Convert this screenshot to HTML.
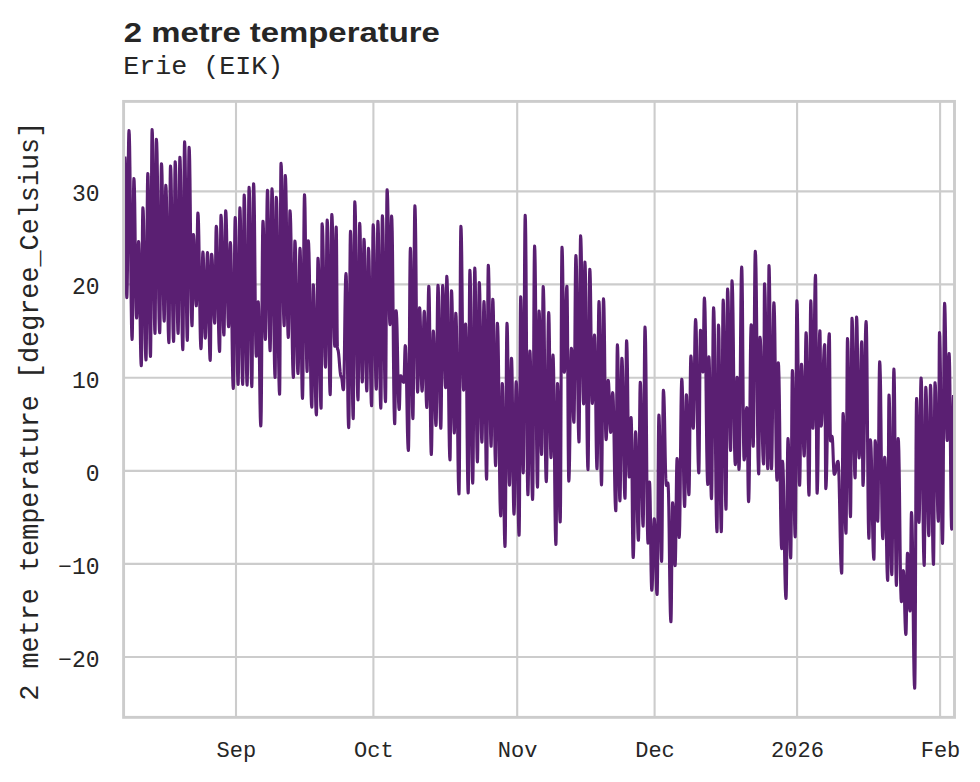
<!DOCTYPE html>
<html><head><meta charset="utf-8"><title>2 metre temperature</title>
<style>
html,body{margin:0;padding:0;background:#fff;}
body{width:980px;height:782px;overflow:hidden;}
svg{display:block;}
text{fill:#262626;}
.mono{font-family:"Liberation Mono",monospace;}
.sans{font-family:"Liberation Sans",sans-serif;}
</style></head><body>
<svg width="980" height="782" viewBox="0 0 980 782">
<rect x="0" y="0" width="980" height="782" fill="#ffffff"/>
<defs><clipPath id="c"><rect x="123.6" y="101.4" width="830.9" height="615.95"/></clipPath></defs>
<g stroke="#cccccc" stroke-width="2.1" fill="none">
<line x1="236.0" y1="101.4" x2="236.0" y2="717.35"/>
<line x1="373.4" y1="101.4" x2="373.4" y2="717.35"/>
<line x1="517.2" y1="101.4" x2="517.2" y2="717.35"/>
<line x1="654.6" y1="101.4" x2="654.6" y2="717.35"/>
<line x1="797.1" y1="101.4" x2="797.1" y2="717.35"/>
<line x1="940.1" y1="101.4" x2="940.1" y2="717.35"/>
<line x1="123.6" y1="191.4" x2="954.5" y2="191.4"/>
<line x1="123.6" y1="284.4" x2="954.5" y2="284.4"/>
<line x1="123.6" y1="377.8" x2="954.5" y2="377.8"/>
<line x1="123.6" y1="470.9" x2="954.5" y2="470.9"/>
<line x1="123.6" y1="563.9" x2="954.5" y2="563.9"/>
<line x1="123.6" y1="657.0" x2="954.5" y2="657.0"/>
</g>
<polyline clip-path="url(#c)" points="124.90,156.5 125.09,159.0 125.28,166.9 125.47,181.1 125.66,201.9 125.85,227.1 126.04,252.2 126.23,273.0 126.42,287.2 126.61,295.1 126.80,297.6 127.02,294.7 127.24,285.3 127.46,268.4 127.68,243.8 127.90,214.1 128.12,184.4 128.34,159.8 128.56,142.9 128.78,133.5 129.00,130.6 129.31,134.3 129.62,146.0 129.93,167.1 130.24,197.8 130.55,235.0 130.86,272.3 131.17,303.0 131.48,324.1 131.79,335.8 132.10,339.5 132.28,336.7 132.46,327.7 132.64,311.4 132.82,287.7 133.00,259.1 133.18,230.4 133.36,206.7 133.54,190.4 133.72,181.4 133.90,178.6 134.17,181.0 134.44,188.9 134.71,202.9 134.98,223.5 135.25,248.3 135.52,273.1 135.79,293.7 136.06,307.7 136.33,315.6 136.60,318.0 136.80,316.7 137.00,312.4 137.20,304.7 137.40,293.4 137.60,279.8 137.80,266.2 138.00,254.9 138.20,247.2 138.40,242.9 138.60,241.6 138.87,243.8 139.14,250.7 139.41,263.3 139.68,281.5 139.95,303.6 140.22,325.8 140.49,344.0 140.76,356.6 141.03,363.5 141.30,365.7 141.46,362.9 141.62,354.1 141.78,338.1 141.94,314.9 142.10,286.8 142.26,258.7 142.42,235.5 142.58,219.5 142.74,210.7 142.90,207.9 143.21,210.6 143.52,219.1 143.83,234.5 144.14,256.9 144.45,283.9 144.76,311.0 145.07,333.4 145.38,348.8 145.69,357.3 146.00,360.0 146.18,356.7 146.36,346.3 146.54,327.4 146.72,300.0 146.90,266.8 147.08,233.5 147.26,206.1 147.44,187.2 147.62,176.8 147.80,173.5 148.07,176.7 148.34,187.0 148.61,205.5 148.88,232.4 149.15,265.0 149.42,297.6 149.69,324.5 149.96,343.0 150.23,353.3 150.50,356.5 150.66,352.5 150.82,339.8 150.98,316.9 151.14,283.5 151.30,243.1 151.46,202.6 151.62,169.2 151.78,146.3 151.94,133.6 152.10,129.6 152.39,133.2 152.68,144.6 152.97,165.2 153.26,195.2 153.55,231.5 153.84,267.8 154.13,297.8 154.42,318.4 154.71,329.8 155.00,333.4 155.14,330.0 155.28,319.1 155.42,299.5 155.56,271.0 155.70,236.4 155.84,201.8 155.98,173.3 156.12,153.7 156.26,142.8 156.40,139.4 156.73,142.8 157.06,153.6 157.39,173.2 157.72,201.6 158.05,236.1 158.38,270.6 158.71,299.0 159.04,318.6 159.37,329.4 159.70,332.8 159.88,329.8 160.06,320.4 160.24,303.3 160.42,278.4 160.60,248.2 160.78,218.1 160.96,193.2 161.14,176.1 161.32,166.7 161.50,163.7 161.77,166.5 162.04,175.3 162.31,191.2 162.58,214.4 162.85,242.4 163.12,270.4 163.39,293.6 163.66,309.5 163.93,318.3 164.20,321.1 164.36,318.7 164.52,311.1 164.68,297.4 164.84,277.4 165.00,253.2 165.16,229.1 165.32,209.1 165.48,195.4 165.64,187.8 165.80,185.4 166.11,188.2 166.42,197.0 166.73,212.9 167.04,236.0 167.35,264.0 167.66,292.0 167.97,315.1 168.28,331.0 168.59,339.8 168.90,342.6 169.06,339.5 169.22,329.6 169.38,311.8 169.54,285.8 169.70,254.3 169.86,222.8 170.02,196.8 170.18,179.0 170.34,169.1 170.50,166.0 170.81,169.1 171.12,178.9 171.43,196.6 171.74,222.5 172.05,253.8 172.36,285.0 172.67,310.9 172.98,328.6 173.29,338.4 173.60,341.5 173.76,338.3 173.92,328.3 174.08,310.1 174.24,283.6 174.40,251.6 174.56,219.6 174.72,193.1 174.88,174.9 175.04,164.9 175.20,161.7 175.49,164.7 175.78,174.3 176.07,191.7 176.36,217.0 176.65,247.6 176.94,278.1 177.23,303.4 177.52,320.8 177.81,330.4 178.10,333.4 178.28,330.3 178.46,320.4 178.64,302.6 178.82,276.7 179.00,245.3 179.18,213.9 179.36,188.0 179.54,170.2 179.72,160.3 179.90,157.2 180.19,160.6 180.48,171.4 180.77,190.8 181.06,219.2 181.35,253.4 181.64,287.7 181.93,316.1 182.22,335.5 182.51,346.3 182.80,349.7 182.98,346.0 183.16,334.4 183.34,313.4 183.52,282.8 183.70,245.8 183.88,208.7 184.06,178.1 184.24,157.1 184.42,145.5 184.60,141.8 184.87,145.3 185.14,156.4 185.41,176.5 185.68,205.8 185.95,241.1 186.22,276.5 186.49,305.8 186.76,325.9 187.03,337.0 187.30,340.5 187.48,337.1 187.66,326.3 187.84,306.8 188.02,278.3 188.20,243.9 188.38,209.5 188.56,181.0 188.74,161.5 188.92,150.7 189.10,147.3 189.39,150.4 189.68,160.4 189.97,178.5 190.26,204.8 190.55,236.5 190.84,268.3 191.13,294.6 191.42,312.7 191.71,322.7 192.00,325.8 192.14,324.2 192.28,319.1 192.42,309.9 192.56,296.4 192.70,280.2 192.84,263.9 192.98,250.4 193.12,241.2 193.26,236.1 193.40,234.5 193.69,235.8 193.98,239.7 194.27,247.0 194.56,257.4 194.85,270.1 195.14,282.9 195.43,293.3 195.72,300.6 196.01,304.5 196.30,305.8 196.46,304.2 196.62,299.0 196.78,289.6 196.94,275.9 197.10,259.4 197.26,242.9 197.42,229.2 197.58,219.8 197.74,214.6 197.90,213.0 198.21,215.4 198.52,223.0 198.83,236.7 199.14,256.7 199.45,280.8 199.76,305.0 200.07,325.0 200.38,338.7 200.69,346.3 201.00,348.7 201.19,347.0 201.38,341.6 201.57,331.8 201.76,317.6 201.95,300.4 202.14,283.2 202.33,269.0 202.52,259.2 202.71,253.8 202.90,252.1 203.14,253.6 203.38,258.4 203.62,267.1 203.86,279.8 204.10,295.1 204.34,310.4 204.58,323.1 204.82,331.8 205.06,336.6 205.30,338.1 205.52,336.6 205.74,331.8 205.96,323.2 206.18,310.6 206.40,295.4 206.62,280.1 206.84,267.5 207.06,258.9 207.28,254.1 207.50,252.6 207.77,254.5 208.04,260.5 208.31,271.4 208.58,287.3 208.85,306.5 209.12,325.7 209.39,341.6 209.66,352.5 209.93,358.5 210.20,360.4 210.34,358.5 210.48,352.6 210.62,341.9 210.76,326.2 210.90,307.3 211.04,288.4 211.18,272.7 211.32,262.0 211.46,256.1 211.60,254.2 211.91,255.4 212.22,259.3 212.53,266.2 212.84,276.4 213.15,288.6 213.46,300.9 213.77,311.1 214.08,318.0 214.39,321.9 214.70,323.1 214.86,321.4 215.02,316.0 215.18,306.2 215.34,291.9 215.50,274.7 215.66,257.5 215.82,243.2 215.98,233.4 216.14,228.0 216.30,226.3 216.63,228.5 216.96,235.5 217.29,248.1 217.62,266.6 217.95,288.9 218.28,311.1 218.61,329.6 218.94,342.2 219.27,349.2 219.60,351.4 219.74,349.0 219.88,341.4 220.02,327.6 220.16,307.6 220.30,283.4 220.44,259.2 220.58,239.2 220.72,225.4 220.86,217.8 221.00,215.4 221.29,217.5 221.58,224.2 221.87,236.3 222.16,253.9 222.45,275.2 222.74,296.5 223.03,314.1 223.32,326.2 223.61,332.9 223.90,335.0 224.08,332.8 224.26,325.9 224.44,313.3 224.62,295.0 224.80,272.9 224.98,250.7 225.16,232.4 225.34,219.8 225.52,212.9 225.70,210.7 225.99,212.7 226.28,219.2 226.57,231.0 226.86,248.1 227.15,268.8 227.44,289.4 227.73,306.5 228.02,318.3 228.31,324.8 228.60,326.8 228.78,325.3 228.96,320.6 229.14,312.1 229.32,299.7 229.50,284.7 229.68,269.7 229.86,257.3 230.04,248.8 230.22,244.1 230.40,242.6 230.69,245.2 230.98,253.3 231.27,268.1 231.56,289.6 231.85,315.5 232.14,341.5 232.43,363.0 232.72,377.8 233.01,385.9 233.30,388.5 233.49,385.5 233.68,375.9 233.87,358.6 234.06,333.5 234.25,303.0 234.44,272.5 234.63,247.4 234.82,230.1 235.01,220.5 235.20,217.5 235.49,220.4 235.78,229.8 236.07,246.6 236.36,271.2 236.65,300.9 236.94,330.7 237.23,355.3 237.52,372.1 237.81,381.5 238.10,384.4 238.28,381.3 238.46,371.4 238.64,353.6 238.82,327.6 239.00,296.2 239.18,264.7 239.36,238.7 239.54,220.9 239.72,211.0 239.90,207.9 240.18,211.0 240.46,220.9 240.74,238.7 241.02,264.7 241.30,296.1 241.58,327.6 241.86,353.6 242.14,371.4 242.42,381.3 242.70,384.4 242.85,381.1 243.00,370.5 243.15,351.3 243.30,323.4 243.45,289.7 243.60,256.0 243.75,228.1 243.90,208.9 244.05,198.3 244.20,195.0 244.49,198.3 244.78,209.0 245.07,228.2 245.36,256.2 245.65,290.1 245.94,323.9 246.23,351.9 246.52,371.1 246.81,381.8 247.10,385.1 247.30,381.6 247.50,370.6 247.70,350.6 247.90,321.5 248.10,286.2 248.30,251.0 248.50,221.9 248.70,201.9 248.90,190.9 249.10,187.4 249.37,190.9 249.64,202.0 249.91,222.2 250.18,251.5 250.45,287.0 250.72,322.5 250.99,351.8 251.26,372.0 251.53,383.1 251.80,386.6 251.98,383.0 252.16,371.7 252.34,351.2 252.52,321.3 252.70,285.2 252.88,249.0 253.06,219.1 253.24,198.6 253.42,187.3 253.60,183.7 253.87,186.7 254.14,196.4 254.41,213.8 254.68,239.3 254.95,270.0 255.22,300.7 255.49,326.2 255.76,343.6 256.03,353.3 256.30,356.3 256.49,355.3 256.68,352.3 256.87,346.8 257.06,338.7 257.25,329.0 257.44,319.3 257.63,311.2 257.82,305.7 258.01,302.7 258.20,301.7 258.46,303.9 258.72,310.8 258.98,323.4 259.24,341.7 259.50,363.8 259.76,386.0 260.02,404.3 260.28,416.9 260.54,423.8 260.80,426.0 261.02,422.4 261.24,410.9 261.46,390.2 261.68,360.1 261.90,323.6 262.12,287.1 262.34,257.0 262.56,236.3 262.78,224.8 263.00,221.2 263.24,223.3 263.48,229.9 263.72,241.9 263.96,259.3 264.20,280.3 264.44,301.4 264.68,318.8 264.92,330.8 265.16,337.4 265.40,339.5 265.61,336.9 265.82,328.5 266.03,313.4 266.24,291.5 266.45,264.9 266.66,238.3 266.87,216.4 267.08,201.3 267.29,192.9 267.50,190.3 267.76,193.1 268.02,202.1 268.28,218.3 268.54,242.0 268.80,270.5 269.06,299.1 269.32,322.8 269.58,339.0 269.84,348.0 270.10,350.8 270.29,348.0 270.48,338.9 270.67,322.5 270.86,298.7 271.05,269.9 271.24,241.0 271.43,217.2 271.62,200.8 271.81,191.7 272.00,188.9 272.31,192.2 272.62,202.8 272.93,221.8 273.24,249.6 273.55,283.2 273.86,316.8 274.17,344.6 274.48,363.6 274.79,374.2 275.10,377.5 275.22,374.3 275.34,364.3 275.46,346.0 275.58,319.5 275.70,287.4 275.82,255.4 275.94,228.9 276.06,210.6 276.18,200.6 276.30,197.4 276.63,200.9 276.96,211.9 277.29,231.8 277.62,260.8 277.95,295.8 278.28,330.9 278.61,359.9 278.94,379.8 279.27,390.8 279.60,394.3 279.74,390.2 279.88,377.3 280.02,354.0 280.16,320.0 280.30,278.8 280.44,237.6 280.58,203.6 280.72,180.3 280.86,167.4 281.00,163.3 281.32,166.2 281.64,175.3 281.96,191.7 282.28,215.6 282.60,244.5 282.92,273.5 283.24,297.4 283.56,313.8 283.88,322.9 284.20,325.8 284.31,323.2 284.42,314.8 284.53,299.6 284.64,277.5 284.75,250.7 284.86,223.9 284.97,201.8 285.08,186.6 285.19,178.2 285.30,175.6 285.60,178.4 285.90,187.5 286.20,203.9 286.50,227.7 286.80,256.5 287.10,285.4 287.40,309.2 287.70,325.6 288.00,334.7 288.30,337.5 288.47,335.3 288.64,328.2 288.81,315.4 288.98,296.7 289.15,274.1 289.32,251.5 289.49,232.8 289.66,220.0 289.83,212.9 290.00,210.7 290.34,213.6 290.68,223.0 291.02,239.8 291.36,264.4 291.70,294.1 292.04,323.8 292.38,348.4 292.72,365.2 293.06,374.6 293.40,377.5 293.55,375.1 293.70,367.5 293.85,353.7 294.00,333.6 294.15,309.2 294.30,284.9 294.45,264.8 294.60,251.0 294.75,243.4 294.90,241.0 295.21,243.3 295.52,250.7 295.83,264.1 296.14,283.6 296.45,307.2 296.76,330.9 297.07,350.4 297.38,363.8 297.69,371.2 298.00,373.5 298.20,371.3 298.40,364.3 298.60,351.6 298.80,333.2 299.00,310.9 299.20,288.6 299.40,270.2 299.60,257.5 299.80,250.5 300.00,248.3 300.25,250.9 300.50,259.3 300.75,274.5 301.00,296.6 301.25,323.4 301.50,350.1 301.75,372.2 302.00,387.4 302.25,395.8 302.50,398.4 302.70,394.8 302.90,383.4 303.10,362.8 303.30,332.8 303.50,296.6 303.70,260.3 303.90,230.3 304.10,209.7 304.30,198.3 304.50,194.7 304.76,197.8 305.02,207.7 305.28,225.6 305.54,251.6 305.80,283.1 306.06,314.6 306.32,340.6 306.58,358.5 306.84,368.4 307.10,371.5 307.22,369.2 307.34,361.9 307.46,348.7 307.58,329.4 307.70,306.1 307.82,282.8 307.94,263.5 308.06,250.3 308.18,243.0 308.30,240.7 308.65,243.6 309.00,252.9 309.35,269.8 309.70,294.3 310.05,323.9 310.40,353.5 310.75,378.0 311.10,394.9 311.45,404.2 311.80,407.1 311.95,404.9 312.10,398.1 312.25,385.7 312.40,367.7 312.55,345.9 312.70,324.1 312.85,306.1 313.00,293.7 313.15,286.9 313.30,284.7 313.61,287.0 313.92,294.3 314.23,307.4 314.54,326.6 314.85,349.8 315.16,373.0 315.47,392.2 315.78,405.3 316.09,412.6 316.40,414.9 316.56,412.1 316.72,403.4 316.88,387.5 317.04,364.5 317.20,336.6 317.36,308.6 317.52,285.6 317.68,269.7 317.84,261.0 318.00,258.2 318.31,260.8 318.62,269.2 318.93,284.4 319.24,306.5 319.55,333.2 319.86,360.0 320.17,382.1 320.48,397.3 320.79,405.7 321.10,408.3 321.20,405.1 321.30,394.7 321.40,376.1 321.50,348.9 321.60,316.1 321.70,283.3 321.80,256.1 321.90,237.5 322.00,227.1 322.10,223.9 322.44,226.4 322.78,234.4 323.12,248.9 323.46,270.0 323.80,295.5 324.14,321.0 324.48,342.1 324.82,356.6 325.16,364.6 325.50,367.1 325.67,364.5 325.84,356.3 326.01,341.4 326.18,319.8 326.35,293.6 326.52,267.4 326.69,245.8 326.86,230.9 327.03,222.7 327.20,220.1 327.50,223.2 327.80,232.9 328.10,250.6 328.40,276.3 328.70,307.4 329.00,338.4 329.30,364.1 329.60,381.8 329.90,391.5 330.20,394.6 330.36,391.4 330.52,381.4 330.68,363.1 330.84,336.6 331.00,304.6 331.16,272.5 331.32,246.0 331.48,227.7 331.64,217.7 331.80,214.5 332.10,216.8 332.40,224.2 332.70,237.5 333.00,256.9 333.30,280.4 333.60,303.9 333.90,323.3 334.20,336.6 334.50,344.0 334.80,346.3 334.94,344.2 335.08,337.5 335.22,325.5 335.36,307.9 335.50,286.7 335.64,265.4 335.78,247.8 335.92,235.8 336.06,229.1 336.20,227.0 336.33,229.1 336.46,236.0 336.59,248.3 336.72,266.3 336.85,288.0 336.98,309.7 337.11,327.7 337.24,340.0 337.37,346.9 337.50,349.0 337.88,349.5 338.26,351.0 338.64,353.9 339.02,357.9 339.40,362.9 339.78,367.9 340.16,371.9 340.54,374.8 340.92,376.3 341.30,376.8 341.51,377.0 341.72,377.7 341.93,379.1 342.14,381.0 342.35,383.2 342.56,385.5 342.77,387.4 342.98,388.8 343.19,389.5 343.40,389.7 343.66,387.7 343.92,381.2 344.18,369.4 344.44,352.3 344.70,331.6 344.96,311.0 345.22,293.9 345.48,282.1 345.74,275.6 346.00,273.6 346.27,276.3 346.54,284.9 346.81,300.5 347.08,323.2 347.35,350.6 347.62,378.0 347.89,400.7 348.16,416.3 348.43,424.9 348.70,427.6 348.88,424.2 349.06,413.2 349.24,393.3 349.42,364.5 349.60,329.5 349.78,294.5 349.96,265.7 350.14,245.8 350.32,234.8 350.50,231.4 350.77,234.7 351.04,245.2 351.31,264.1 351.58,291.7 351.85,325.0 352.12,358.4 352.39,386.0 352.66,404.9 352.93,415.4 353.20,418.7 353.36,414.9 353.52,402.7 353.68,380.8 353.84,348.9 354.00,310.2 354.16,271.6 354.32,239.7 354.48,217.8 354.64,205.6 354.80,201.8 355.12,205.3 355.44,216.4 355.76,236.4 356.08,265.6 356.40,300.8 356.72,336.1 357.04,365.3 357.36,385.3 357.68,396.4 358.00,399.9 358.17,396.8 358.34,386.9 358.51,369.1 358.68,343.1 358.85,311.6 359.02,280.1 359.19,254.1 359.36,236.3 359.53,226.4 359.70,223.3 359.96,226.1 360.22,235.0 360.48,251.0 360.74,274.4 361.00,302.6 361.26,330.9 361.52,354.3 361.78,370.3 362.04,379.2 362.30,382.0 362.47,379.5 362.64,371.5 362.81,357.1 362.98,336.0 363.15,310.6 363.32,285.2 363.49,264.1 363.66,249.7 363.83,241.7 364.00,239.2 364.28,241.9 364.56,250.4 364.84,265.7 365.12,288.1 365.40,315.1 365.68,342.1 365.96,364.5 366.24,379.8 366.52,388.3 366.80,391.0 366.97,388.5 367.14,380.5 367.31,366.1 367.48,345.1 367.65,319.7 367.82,294.3 367.99,273.3 368.16,258.9 368.33,250.9 368.50,248.4 368.81,251.2 369.12,260.0 369.43,275.9 369.74,299.1 370.05,327.1 370.36,355.1 370.67,378.3 370.98,394.2 371.29,403.0 371.60,405.8 371.76,402.6 371.92,392.5 372.08,374.2 372.24,347.6 372.40,315.4 372.56,283.1 372.72,256.5 372.88,238.2 373.04,228.1 373.20,224.9 373.51,227.8 373.82,237.0 374.13,253.6 374.44,277.7 374.75,307.0 375.06,336.3 375.37,360.4 375.68,377.0 375.99,386.2 376.30,389.1 376.46,386.2 376.62,376.8 376.78,359.8 376.94,335.1 377.10,305.2 377.26,275.4 377.42,250.7 377.58,233.7 377.74,224.3 377.90,221.4 378.19,224.7 378.48,235.1 378.77,254.0 379.06,281.5 379.35,314.8 379.64,348.0 379.93,375.5 380.22,394.4 380.51,404.8 380.80,408.1 380.96,404.7 381.12,394.0 381.28,374.5 381.44,346.2 381.60,311.9 381.76,277.6 381.92,249.3 382.08,229.8 382.24,219.1 382.40,215.7 382.71,219.0 383.02,229.4 383.33,248.2 383.64,275.6 383.95,308.7 384.26,341.8 384.57,369.2 384.88,388.0 385.19,398.4 385.50,401.7 385.66,398.0 385.82,386.1 385.98,364.7 386.14,333.5 386.30,295.7 386.46,257.9 386.62,226.7 386.78,205.3 386.94,193.4 387.10,189.7 387.39,192.1 387.68,199.6 387.97,213.3 388.26,233.1 388.55,257.1 388.84,281.2 389.13,301.0 389.42,314.7 389.71,322.2 390.00,324.6 390.16,322.7 390.32,316.6 390.48,305.7 390.64,289.7 390.80,270.4 390.96,251.0 391.12,235.0 391.28,224.1 391.44,218.0 391.60,216.1 391.91,219.7 392.22,231.4 392.53,252.4 392.84,283.0 393.15,319.9 393.46,356.9 393.77,387.5 394.08,408.5 394.39,420.2 394.70,423.8 394.84,421.8 394.98,415.5 395.12,404.1 395.26,387.4 395.40,367.3 395.54,347.2 395.68,330.5 395.82,319.1 395.96,312.8 396.10,310.8 396.41,312.5 396.72,318.1 397.03,328.0 397.34,342.6 397.65,360.1 397.96,377.7 398.27,392.3 398.58,402.2 398.89,407.8 399.20,409.5 399.33,408.9 399.46,407.0 399.59,403.6 399.72,398.6 399.85,392.6 399.98,386.6 400.11,381.6 400.24,378.2 400.37,376.3 400.50,375.7 400.83,375.8 401.16,376.2 401.49,376.9 401.82,377.8 402.15,379.0 402.48,380.2 402.81,381.1 403.14,381.8 403.47,382.2 403.80,382.3 403.95,381.7 404.10,379.6 404.25,375.9 404.40,370.5 404.55,364.0 404.70,357.5 404.85,352.1 405.00,348.4 405.15,346.3 405.30,345.7 405.61,347.5 405.92,353.4 406.23,364.0 406.54,379.4 406.85,398.1 407.16,416.7 407.47,432.1 407.78,442.7 408.09,448.6 408.40,450.4 408.60,446.9 408.80,435.5 409.00,415.1 409.20,385.4 409.40,349.4 409.60,313.4 409.80,283.7 410.00,263.3 410.20,251.9 410.40,248.4 410.65,251.4 410.90,260.9 411.15,278.1 411.40,303.2 411.65,333.5 411.90,363.9 412.15,389.0 412.40,406.2 412.65,415.7 412.90,418.7 413.10,415.0 413.30,403.0 413.50,381.5 413.70,350.2 413.90,312.3 414.10,274.4 414.30,243.1 414.50,221.6 414.70,209.6 414.90,205.9 415.17,209.2 415.44,219.6 415.71,238.4 415.98,265.8 416.25,299.0 416.52,332.2 416.79,359.6 417.06,378.4 417.33,388.8 417.60,392.1 417.80,390.6 418.00,385.9 418.20,377.4 418.40,364.9 418.60,349.9 418.80,334.9 419.00,322.4 419.20,313.9 419.40,309.2 419.60,307.7 419.85,309.2 420.10,313.8 420.35,322.3 420.60,334.5 420.85,349.4 421.10,364.3 421.35,376.5 421.60,385.0 421.85,389.6 422.10,391.1 422.32,389.7 422.54,385.2 422.76,377.2 422.98,365.4 423.20,351.2 423.42,337.1 423.64,325.3 423.86,317.3 424.08,312.8 424.30,311.4 424.55,313.1 424.80,318.5 425.05,328.2 425.30,342.3 425.55,359.4 425.80,376.6 426.05,390.7 426.30,400.4 426.55,405.8 426.80,407.5 427.00,405.4 427.20,398.6 427.40,386.3 427.60,368.5 427.80,346.9 428.00,325.2 428.20,307.4 428.40,295.1 428.60,288.3 428.80,286.2 429.05,289.2 429.30,298.6 429.55,315.6 429.80,340.4 430.05,370.3 430.30,400.3 430.55,425.1 430.80,442.1 431.05,451.5 431.30,454.5 431.50,452.3 431.70,445.4 431.90,432.9 432.10,414.8 432.30,392.8 432.50,370.8 432.70,352.7 432.90,340.2 433.10,333.3 433.30,331.1 433.57,332.8 433.84,338.0 434.11,347.6 434.38,361.5 434.65,378.3 434.92,395.1 435.19,409.0 435.46,418.6 435.73,423.8 436.00,425.5 436.20,423.0 436.40,415.2 436.60,401.0 436.80,380.3 437.00,355.4 437.20,330.4 437.40,309.7 437.60,295.5 437.80,287.7 438.00,285.2 438.28,287.7 438.56,295.7 438.84,310.2 439.12,331.3 439.40,356.8 439.68,382.2 439.96,403.3 440.24,417.8 440.52,425.8 440.80,428.3 440.99,425.8 441.18,417.8 441.37,403.4 441.56,382.4 441.75,356.9 441.94,331.5 442.13,310.5 442.32,296.1 442.51,288.1 442.70,285.6 442.99,287.4 443.28,293.1 443.57,303.4 443.86,318.4 444.15,336.6 444.44,354.8 444.73,369.8 445.02,380.1 445.31,385.8 445.60,387.6 445.72,385.6 445.84,379.4 445.96,368.2 446.08,351.8 446.20,332.0 446.32,312.2 446.44,295.8 446.56,284.6 446.68,278.4 446.80,276.4 447.12,279.6 447.44,289.9 447.76,308.4 448.08,335.5 448.40,368.1 448.72,400.8 449.04,427.9 449.36,446.4 449.68,456.7 450.00,459.9 450.15,456.9 450.30,447.5 450.45,430.4 450.60,405.4 450.75,375.3 450.90,345.2 451.05,320.2 451.20,303.1 451.35,293.7 451.50,290.7 451.78,293.2 452.06,301.2 452.34,315.6 452.62,336.5 452.90,361.8 453.18,387.2 453.46,408.1 453.74,422.5 454.02,430.5 454.30,433.0 454.45,430.9 454.60,424.2 454.75,412.1 454.90,394.4 455.05,373.1 455.20,351.8 455.35,334.1 455.50,322.0 455.65,315.3 455.80,313.2 456.12,316.4 456.44,326.5 456.76,344.8 457.08,371.4 457.40,403.6 457.72,435.8 458.04,462.4 458.36,480.7 458.68,490.8 459.00,494.0 459.19,489.3 459.38,474.3 459.57,447.2 459.76,407.8 459.95,360.1 460.14,312.5 460.33,273.1 460.52,246.0 460.71,231.0 460.90,226.3 461.17,229.2 461.44,238.3 461.71,254.9 461.98,279.0 462.25,308.2 462.52,337.4 462.79,361.5 463.06,378.1 463.33,387.2 463.60,390.1 463.80,388.9 464.00,385.2 464.20,378.6 464.40,368.9 464.60,357.1 464.80,345.3 465.00,335.6 465.20,329.0 465.40,325.3 465.60,324.1 465.86,327.1 466.12,336.5 466.38,353.6 466.64,378.5 466.90,408.5 467.16,438.6 467.42,463.5 467.68,480.6 467.94,490.0 468.20,493.0 468.37,489.1 468.54,476.6 468.71,454.1 468.88,421.3 469.05,381.7 469.22,342.0 469.39,309.2 469.56,286.7 469.73,274.2 469.90,270.3 470.18,274.0 470.46,286.0 470.74,307.5 471.02,338.8 471.30,376.7 471.58,414.6 471.86,445.9 472.14,467.4 472.42,479.4 472.70,483.1 472.91,479.3 473.12,467.3 473.33,445.5 473.54,413.9 473.75,375.6 473.96,337.2 474.17,305.6 474.38,283.8 474.59,271.8 474.80,268.0 475.06,271.4 475.32,282.3 475.58,301.9 475.84,330.4 476.10,364.9 476.36,399.5 476.62,428.0 476.88,447.6 477.14,458.5 477.40,461.9 477.59,458.7 477.78,448.7 477.97,430.6 478.16,404.2 478.35,372.2 478.54,340.3 478.73,313.9 478.92,295.8 479.11,285.8 479.30,282.6 479.56,285.4 479.82,294.3 480.08,310.5 480.34,334.0 480.60,362.4 480.86,390.8 481.12,414.3 481.38,430.5 481.64,439.4 481.90,442.2 482.11,439.7 482.32,431.9 482.53,417.6 482.74,396.9 482.95,371.9 483.16,346.9 483.37,326.2 483.58,311.9 483.79,304.1 484.00,301.6 484.26,304.7 484.52,314.7 484.78,332.6 485.04,358.7 485.30,390.3 485.56,422.0 485.82,448.1 486.08,466.0 486.34,476.0 486.60,479.1 486.77,475.3 486.94,463.4 487.11,441.7 487.28,410.3 487.45,372.2 487.62,334.0 487.79,302.6 487.96,280.9 488.13,269.0 488.30,265.2 488.58,268.4 488.86,278.5 489.14,296.8 489.42,323.5 489.70,355.8 489.98,388.0 490.26,414.7 490.54,433.0 490.82,443.1 491.10,446.3 491.27,443.7 491.44,435.5 491.61,420.6 491.78,399.0 491.95,372.8 492.12,346.5 492.29,324.9 492.46,310.0 492.63,301.8 492.80,299.2 493.08,302.1 493.36,311.4 493.64,328.3 493.92,352.8 494.20,382.4 494.48,412.0 494.76,436.5 495.04,453.4 495.32,462.7 495.60,465.6 495.78,463.1 495.96,455.1 496.14,440.7 496.32,419.8 496.50,394.4 496.68,369.0 496.86,348.1 497.04,333.7 497.22,325.7 497.40,323.2 497.73,326.6 498.06,337.4 498.39,356.9 498.72,385.2 499.05,419.5 499.38,453.9 499.71,482.2 500.04,501.7 500.37,512.5 500.70,515.9 500.86,513.6 501.02,506.2 501.18,492.8 501.34,473.3 501.50,449.7 501.66,426.1 501.82,406.6 501.98,393.2 502.14,385.8 502.30,383.5 502.57,386.4 502.84,395.5 503.11,412.0 503.38,436.0 503.65,465.0 503.92,494.0 504.19,518.0 504.46,534.5 504.73,543.6 505.00,546.5 505.20,542.6 505.40,530.1 505.60,507.5 505.80,474.7 506.00,435.0 506.20,395.2 506.40,362.4 506.60,339.8 506.80,327.3 507.00,323.4 507.25,326.2 507.50,335.3 507.75,351.7 508.00,375.5 508.25,404.3 508.50,433.1 508.75,456.9 509.00,473.3 509.25,482.4 509.50,485.2 509.70,483.0 509.90,475.9 510.10,463.0 510.30,444.3 510.50,421.7 510.70,399.1 510.90,380.4 511.10,367.5 511.30,360.4 511.50,358.2 511.75,360.9 512.00,369.7 512.25,385.4 512.50,408.4 512.75,436.2 513.00,464.0 513.25,487.0 513.50,502.7 513.75,511.5 514.00,514.2 514.22,511.9 514.44,504.5 514.66,491.1 514.88,471.6 515.10,448.0 515.32,424.4 515.54,404.9 515.76,391.5 515.98,384.1 516.20,381.8 516.49,384.5 516.78,393.1 517.07,408.6 517.36,431.2 517.65,458.5 517.94,485.9 518.23,508.5 518.52,524.0 518.81,532.6 519.10,535.3 519.26,531.1 519.42,517.8 519.58,493.6 519.74,458.5 519.90,416.1 520.06,373.6 520.22,338.5 520.38,314.3 520.54,301.0 520.70,296.8 520.95,299.9 521.20,309.8 521.45,327.6 521.70,353.5 521.95,384.9 522.20,416.2 522.45,442.1 522.70,459.9 522.95,469.8 523.20,472.9 523.40,468.4 523.60,454.0 523.80,427.9 524.00,390.0 524.20,344.2 524.40,298.3 524.60,260.4 524.80,234.3 525.00,219.9 525.20,215.4 525.47,220.3 525.74,235.9 526.01,264.2 526.28,305.3 526.55,355.1 526.82,404.9 527.09,446.0 527.36,474.3 527.63,489.9 527.90,494.8 528.10,492.3 528.30,484.2 528.50,469.7 528.70,448.5 528.90,422.9 529.10,397.3 529.30,376.1 529.50,361.6 529.70,353.5 529.90,351.0 530.17,353.6 530.44,361.9 530.71,376.9 530.98,398.8 531.25,425.2 531.52,451.7 531.79,473.6 532.06,488.6 532.33,496.9 532.60,499.5 532.80,495.0 533.00,480.9 533.20,455.2 533.40,417.9 533.60,372.8 533.80,327.7 534.00,290.4 534.20,264.7 534.40,250.6 534.60,246.1 534.89,250.3 535.18,263.8 535.47,288.2 535.76,323.7 536.05,366.6 536.34,409.6 536.63,445.1 536.92,469.5 537.21,483.0 537.50,487.2 537.66,484.1 537.82,474.2 537.98,456.4 538.14,430.5 538.30,399.1 538.46,367.8 538.62,341.9 538.78,324.1 538.94,314.2 539.10,311.1 539.35,313.6 539.60,321.6 539.85,336.1 540.10,357.3 540.35,382.8 540.60,408.3 540.85,429.5 541.10,444.0 541.35,452.0 541.60,454.5 541.76,451.5 541.92,442.2 542.08,425.2 542.24,400.5 542.40,370.6 542.56,340.6 542.72,315.9 542.88,298.9 543.04,289.6 543.20,286.6 543.51,290.0 543.82,300.9 544.13,320.7 544.44,349.4 544.75,384.1 545.06,418.9 545.37,447.6 545.68,467.4 545.99,478.3 546.30,481.7 546.54,478.7 546.78,469.3 547.02,452.2 547.26,427.3 547.50,397.1 547.74,367.0 547.98,342.1 548.22,325.0 548.46,315.6 548.70,312.6 548.93,315.1 549.16,323.3 549.39,337.9 549.62,359.3 549.85,385.1 550.08,410.9 550.31,432.3 550.54,446.9 550.77,455.1 551.00,457.6 551.20,455.8 551.40,450.1 551.60,439.7 551.80,424.6 552.00,406.4 552.20,388.1 552.40,373.0 552.60,362.6 552.80,356.9 553.00,355.1 553.29,358.4 553.58,369.0 553.87,388.2 554.16,416.1 554.45,449.8 554.74,483.5 555.03,511.4 555.32,530.6 555.61,541.2 555.90,544.5 556.06,541.7 556.22,532.7 556.38,516.4 556.54,492.7 556.70,464.0 556.86,435.3 557.02,411.6 557.18,395.3 557.34,386.3 557.50,383.5 557.77,385.9 558.04,393.7 558.31,407.7 558.58,428.1 558.85,452.8 559.12,477.4 559.39,497.8 559.66,511.8 559.93,519.6 560.20,522.0 560.38,517.2 560.56,501.8 560.74,474.0 560.92,433.6 561.10,384.6 561.28,335.7 561.46,295.3 561.64,267.5 561.82,252.1 562.00,247.3 562.23,249.5 562.46,256.5 562.69,269.1 562.92,287.5 563.15,309.8 563.38,332.1 563.61,350.5 563.84,363.1 564.07,370.1 564.30,372.3 564.56,370.8 564.82,366.0 565.08,357.3 565.34,344.6 565.60,329.2 565.86,313.9 566.12,301.2 566.38,292.5 566.64,287.7 566.90,286.2 567.09,289.6 567.28,300.5 567.47,320.2 567.66,348.9 567.85,383.6 568.04,418.4 568.23,447.1 568.42,466.8 568.61,477.7 568.80,481.1 569.06,478.8 569.32,471.3 569.58,457.9 569.84,438.4 570.10,414.7 570.36,391.0 570.62,371.5 570.88,358.1 571.14,350.6 571.40,348.3 571.65,349.6 571.90,353.7 572.15,361.2 572.40,372.1 572.65,385.3 572.90,398.5 573.15,409.4 573.40,416.9 573.65,421.0 573.90,422.3 574.10,419.4 574.30,410.0 574.50,393.2 574.70,368.6 574.90,338.9 575.10,309.2 575.30,284.6 575.50,267.8 575.70,258.4 575.90,255.5 576.21,258.8 576.52,269.2 576.83,288.1 577.14,315.5 577.45,348.8 577.76,382.0 578.07,409.4 578.38,428.3 578.69,438.7 579.00,442.0 579.16,438.4 579.32,426.8 579.48,406.0 579.64,375.7 579.80,339.0 579.96,302.2 580.12,271.9 580.28,251.1 580.44,239.5 580.60,235.9 580.90,238.9 581.20,248.3 581.50,265.2 581.80,290.0 582.10,319.9 582.40,349.8 582.70,374.6 583.00,391.5 583.30,400.9 583.60,403.9 583.73,401.4 583.86,393.5 583.99,379.1 584.12,358.2 584.25,333.0 584.38,307.7 584.51,286.8 584.64,272.4 584.77,264.5 584.90,262.0 585.21,265.6 585.52,277.3 585.83,298.3 586.14,328.8 586.45,365.8 586.76,402.8 587.07,433.3 587.38,454.3 587.69,466.0 588.00,469.6 588.18,466.1 588.36,454.9 588.54,434.6 588.72,405.1 588.90,369.4 589.08,333.7 589.26,304.2 589.44,283.9 589.62,272.7 589.80,269.2 590.05,271.6 590.30,279.1 590.55,292.6 590.80,312.4 591.05,336.3 591.30,360.2 591.55,380.0 591.80,393.5 592.05,401.0 592.30,403.4 592.52,402.2 592.74,398.4 592.96,391.5 593.18,381.4 593.40,369.2 593.62,357.1 593.84,347.0 594.06,340.1 594.28,336.3 594.50,335.1 594.75,337.4 595.00,344.9 595.25,358.4 595.50,378.1 595.75,401.9 596.00,425.8 596.25,445.5 596.50,459.0 596.75,466.5 597.00,468.8 597.20,465.9 597.40,456.5 597.60,439.6 597.80,415.0 598.00,385.2 598.20,355.3 598.40,330.7 598.60,313.8 598.80,304.4 599.00,301.5 599.25,304.7 599.50,315.0 599.75,333.5 600.00,360.5 600.25,393.2 600.50,425.9 600.75,452.9 601.00,471.4 601.25,481.7 601.50,484.9 601.70,481.6 601.90,471.2 602.10,452.4 602.30,425.0 602.50,391.9 602.70,358.8 602.90,331.4 603.10,312.6 603.30,302.2 603.50,298.9 603.76,301.4 604.02,309.3 604.28,323.5 604.54,344.2 604.80,369.3 605.06,394.4 605.32,415.1 605.58,429.3 605.84,437.2 606.10,439.7 606.31,438.7 606.52,435.3 606.73,429.3 606.94,420.6 607.15,410.1 607.36,399.5 607.57,390.8 607.78,384.8 607.99,381.4 608.20,380.4 608.45,381.3 608.70,384.2 608.95,389.5 609.20,397.1 609.45,406.3 609.70,415.6 609.95,423.2 610.20,428.5 610.45,431.4 610.70,432.3 610.90,431.6 611.10,429.4 611.30,425.4 611.50,419.6 611.70,412.5 611.90,405.4 612.10,399.6 612.30,395.6 612.50,393.4 612.70,392.7 613.01,394.8 613.32,401.4 613.63,413.3 613.94,430.7 614.25,451.8 614.56,472.8 614.87,490.2 615.18,502.1 615.49,508.7 615.80,510.8 615.96,507.9 616.12,498.6 616.28,481.8 616.44,457.4 616.60,427.9 616.76,398.3 616.92,373.9 617.08,357.1 617.24,347.8 617.40,344.9 617.65,347.6 617.90,356.4 618.15,372.1 618.40,395.1 618.65,422.9 618.90,450.7 619.15,473.7 619.40,489.4 619.65,498.2 619.90,500.9 620.10,498.4 620.30,490.4 620.50,476.0 620.70,455.0 620.90,429.6 621.10,404.1 621.30,383.1 621.50,368.7 621.70,360.7 621.90,358.2 622.21,360.7 622.52,368.5 622.83,382.7 623.14,403.3 623.45,428.2 623.76,453.2 624.07,473.8 624.38,488.0 624.69,495.8 625.00,498.3 625.16,495.5 625.32,486.7 625.48,470.8 625.64,447.6 625.80,419.5 625.96,391.4 626.12,368.2 626.28,352.3 626.44,343.5 626.60,340.7 626.86,343.1 627.12,350.7 627.38,364.5 627.64,384.6 627.90,408.8 628.16,433.1 628.42,453.2 628.68,467.0 628.94,474.6 629.20,477.0 629.39,476.0 629.58,472.6 629.77,466.6 629.96,457.9 630.15,447.3 630.34,436.7 630.53,428.0 630.72,422.0 630.91,418.6 631.10,417.6 631.31,420.1 631.52,427.9 631.73,442.0 631.94,462.6 632.15,487.5 632.36,512.5 632.57,533.1 632.78,547.2 632.99,555.0 633.20,557.5 633.44,555.3 633.68,548.3 633.92,535.6 634.16,517.1 634.40,494.7 634.64,472.3 634.88,453.8 635.12,441.1 635.36,434.1 635.60,431.9 635.88,433.8 636.16,439.9 636.44,450.8 636.72,466.8 637.00,486.1 637.28,505.4 637.56,521.4 637.84,532.3 638.12,538.4 638.40,540.3 638.59,537.5 638.78,528.7 638.97,512.7 639.16,489.4 639.35,461.2 639.54,433.1 639.73,409.8 639.92,393.8 640.11,385.0 640.30,382.2 640.58,384.7 640.86,392.8 641.14,407.3 641.42,428.5 641.70,454.2 641.98,479.9 642.26,501.1 642.54,515.6 642.82,523.7 643.10,526.2 643.29,522.7 643.48,511.6 643.67,491.4 643.86,462.1 644.05,426.6 644.24,391.2 644.43,361.9 644.62,341.7 644.81,330.6 645.00,327.1 645.30,330.9 645.60,343.0 645.90,364.8 646.20,396.6 646.50,435.1 646.80,473.6 647.10,505.4 647.40,527.2 647.70,539.3 648.00,543.1 648.15,542.0 648.30,538.6 648.45,532.4 648.60,523.4 648.75,512.5 648.90,501.7 649.05,492.7 649.20,486.5 649.35,483.1 649.50,482.0 649.73,483.9 649.96,490.0 650.19,500.9 650.42,516.9 650.65,536.1 650.88,555.4 651.11,571.4 651.34,582.3 651.57,588.4 651.80,590.3 652.04,589.0 652.28,585.0 652.52,577.8 652.76,567.3 653.00,554.5 653.24,541.7 653.48,531.2 653.72,524.0 653.96,520.0 654.20,518.7 654.49,520.0 654.78,524.3 655.07,531.9 655.36,543.1 655.65,556.6 655.94,570.1 656.23,581.3 656.52,588.9 656.81,593.2 657.10,594.5 657.28,591.3 657.46,581.3 657.64,563.2 657.82,536.7 658.00,504.8 658.18,472.8 658.36,446.3 658.54,428.2 658.72,418.2 658.90,415.0 659.17,417.6 659.44,425.8 659.71,440.6 659.98,462.1 660.25,488.2 660.52,514.3 660.79,535.8 661.06,550.6 661.33,558.8 661.60,561.4 661.78,558.4 661.96,548.8 662.14,531.5 662.32,506.4 662.50,475.9 662.68,445.4 662.86,420.3 663.04,403.0 663.22,393.4 663.40,390.4 663.70,392.1 664.00,397.4 664.30,407.0 664.60,421.0 664.90,437.9 665.20,454.8 665.50,468.8 665.80,478.4 666.10,483.7 666.40,485.4 666.55,485.4 666.70,485.2 666.85,485.0 667.00,484.7 667.15,484.2 667.30,483.8 667.45,483.5 667.60,483.3 667.75,483.1 667.90,483.1 668.20,485.5 668.50,493.3 668.80,507.3 669.10,527.7 669.40,552.4 669.70,577.2 670.00,597.6 670.30,611.6 670.60,619.4 670.90,621.8 671.07,619.7 671.24,613.0 671.41,601.0 671.58,583.5 671.75,562.2 671.92,541.0 672.09,523.5 672.26,511.5 672.43,504.8 672.60,502.7 672.85,503.8 673.10,507.3 673.35,513.7 673.60,522.9 673.85,534.1 674.10,545.4 674.35,554.6 674.60,561.0 674.85,564.5 675.10,565.6 675.30,563.7 675.50,557.7 675.70,546.9 675.90,531.1 676.10,512.0 676.30,493.0 676.50,477.2 676.70,466.4 676.90,460.4 677.10,458.5 677.31,459.9 677.52,464.3 677.73,472.3 677.94,483.9 678.15,497.9 678.36,512.0 678.57,523.6 678.78,531.6 678.99,536.0 679.20,537.4 679.46,534.6 679.72,525.8 679.98,509.8 680.24,486.5 680.50,458.3 680.76,430.1 681.02,406.8 681.28,390.8 681.54,382.0 681.80,379.2 682.08,381.4 682.36,388.6 682.64,401.4 682.92,420.2 683.20,442.8 683.48,465.5 683.76,484.3 684.04,497.1 684.32,504.3 684.60,506.5 684.78,504.5 684.96,498.3 685.14,487.0 685.32,470.5 685.50,450.6 685.68,430.7 685.86,414.2 686.04,402.9 686.22,396.7 686.40,394.7 686.65,396.5 686.90,402.1 687.15,412.2 687.40,426.9 687.65,444.7 687.90,462.5 688.15,477.2 688.40,487.3 688.65,492.9 688.90,494.7 689.10,492.3 689.30,484.5 689.50,470.5 689.70,450.1 689.90,425.4 690.10,400.7 690.30,380.3 690.50,366.3 690.70,358.5 690.90,356.1 691.14,357.4 691.38,361.4 691.62,368.7 691.86,379.3 692.10,392.2 692.34,405.1 692.58,415.7 692.82,423.0 693.06,427.0 693.30,428.3 693.53,426.4 693.76,420.3 693.99,409.3 694.22,393.3 694.45,373.9 694.68,354.6 694.91,338.6 695.14,327.6 695.37,321.5 695.60,319.6 695.92,322.3 696.24,330.9 696.56,346.4 696.88,368.9 697.20,396.2 697.52,423.6 697.84,446.1 698.16,461.6 698.48,470.2 698.80,472.9 698.97,470.4 699.14,462.4 699.31,448.0 699.48,427.0 699.65,401.6 699.82,376.1 699.99,355.1 700.16,340.7 700.33,332.7 700.50,330.2 700.74,330.9 700.98,333.3 701.22,337.5 701.46,343.7 701.70,351.1 701.94,358.5 702.18,364.7 702.42,368.9 702.66,371.3 702.90,372.0 703.05,370.7 703.20,366.6 703.35,359.1 703.50,348.2 703.65,335.1 703.80,321.9 703.95,311.0 704.10,303.5 704.25,299.4 704.40,298.1 704.74,301.4 705.08,311.8 705.42,330.7 705.76,358.1 706.10,391.3 706.44,424.5 706.78,451.9 707.12,470.8 707.46,481.2 707.80,484.5 707.91,482.3 708.02,475.1 708.13,462.2 708.24,443.4 708.35,420.7 708.46,397.9 708.57,379.1 708.68,366.2 708.79,359.0 708.90,356.8 709.16,359.3 709.42,367.2 709.68,381.6 709.94,402.4 710.20,427.7 710.46,453.0 710.72,473.8 710.98,488.2 711.24,496.1 711.50,498.6 711.71,495.2 711.92,484.6 712.13,465.3 712.34,437.2 712.55,403.2 712.76,369.1 712.97,341.0 713.18,321.7 713.39,311.1 713.60,307.7 713.94,311.6 714.28,324.2 714.62,346.8 714.96,379.8 715.30,419.7 715.64,459.7 715.98,492.7 716.32,515.3 716.66,527.9 717.00,531.8 717.15,528.2 717.30,516.6 717.45,495.7 717.60,465.3 717.75,428.4 717.90,391.6 718.05,361.2 718.20,340.3 718.35,328.7 718.50,325.1 718.78,328.7 719.06,340.3 719.34,361.2 719.62,391.6 719.90,428.4 720.18,465.3 720.46,495.7 720.74,516.6 721.02,528.2 721.30,531.8 721.49,527.7 721.68,514.8 721.87,491.3 722.06,457.2 722.25,415.9 722.44,374.6 722.63,340.5 722.82,317.0 723.01,304.1 723.20,300.0 723.48,303.7 723.76,315.4 724.04,336.6 724.32,367.4 724.60,404.6 724.88,441.9 725.16,472.7 725.44,493.9 725.72,505.6 726.00,509.3 726.16,505.4 726.32,493.1 726.48,470.8 726.64,438.4 726.80,399.2 726.96,360.0 727.12,327.6 727.28,305.3 727.44,293.0 727.60,289.1 727.90,291.9 728.20,301.0 728.50,317.3 728.80,341.0 729.10,369.8 729.40,398.6 729.70,422.3 730.00,438.6 730.30,447.7 730.60,450.5 730.74,447.5 730.88,438.0 731.02,420.9 731.16,395.9 731.30,365.7 731.44,335.5 731.58,310.5 731.72,293.4 731.86,283.9 732.00,280.9 732.33,284.1 732.66,294.4 732.99,313.0 733.32,340.0 733.65,372.8 733.98,405.5 734.31,432.5 734.64,451.1 734.97,461.4 735.30,464.6 735.48,463.1 735.66,458.2 735.84,449.4 736.02,436.5 736.20,421.0 736.38,405.4 736.56,392.5 736.74,383.7 736.92,378.8 737.10,377.3 737.29,378.9 737.48,384.1 737.67,393.4 737.86,407.0 738.05,423.4 738.24,439.8 738.43,453.4 738.62,462.7 738.81,467.9 739.00,469.5 739.27,465.9 739.54,454.6 739.81,434.1 740.08,404.3 740.35,368.2 740.62,332.2 740.89,302.4 741.16,281.9 741.43,270.6 741.70,267.0 741.94,270.4 742.18,281.2 742.42,300.7 742.66,329.1 742.90,363.5 743.14,397.9 743.38,426.3 743.62,445.8 743.86,456.6 744.10,460.0 744.37,459.1 744.64,456.2 744.91,450.9 745.18,443.2 745.45,433.9 745.72,424.5 745.99,416.8 746.26,411.5 746.53,408.6 746.80,407.7 746.98,409.4 747.16,414.6 747.34,424.1 747.52,438.0 747.70,454.7 747.88,471.4 748.06,485.3 748.24,494.8 748.42,500.0 748.60,501.7 748.86,498.6 749.12,488.7 749.38,470.8 749.64,444.7 749.90,413.2 750.16,381.7 750.42,355.6 750.68,337.7 750.94,327.8 751.20,324.7 751.40,326.8 751.60,333.6 751.80,345.9 752.00,363.8 752.20,385.5 752.40,407.2 752.60,425.1 752.80,437.4 753.00,444.2 753.20,446.3 753.41,442.9 753.62,432.0 753.83,412.3 754.04,383.6 754.25,348.9 754.46,314.1 754.67,285.4 754.88,265.7 755.09,254.8 755.30,251.4 755.64,255.3 755.98,267.8 756.32,290.3 756.66,323.0 757.00,362.6 757.34,402.3 757.68,435.0 758.02,457.5 758.36,470.0 758.70,473.9 758.83,471.5 758.96,463.9 759.09,450.1 759.22,430.0 759.35,405.7 759.48,381.3 759.61,361.2 759.74,347.4 759.87,339.8 760.00,337.4 760.36,339.6 760.72,346.7 761.08,359.5 761.44,378.1 761.80,400.7 762.16,423.3 762.52,441.9 762.88,454.7 763.24,461.8 763.60,464.0 763.69,460.8 763.78,450.7 763.87,432.5 763.96,406.0 764.05,373.9 764.14,341.7 764.23,315.2 764.32,297.0 764.41,286.9 764.50,283.7 764.83,287.0 765.16,297.3 765.49,316.0 765.82,343.3 766.15,376.2 766.48,409.2 766.81,436.5 767.14,455.2 767.47,465.5 767.80,468.8 767.92,465.2 768.04,453.8 768.16,433.3 768.28,403.4 768.40,367.2 768.52,330.9 768.64,301.0 768.76,280.5 768.88,269.1 769.00,265.5 769.25,269.1 769.50,280.5 769.75,301.0 770.00,330.9 770.25,367.1 770.50,403.4 770.75,433.3 771.00,453.8 771.25,465.2 771.50,468.8 771.74,465.9 771.98,456.6 772.22,439.8 772.46,415.3 772.70,385.8 772.94,356.2 773.18,331.7 773.42,314.9 773.66,305.6 773.90,302.7 774.21,305.8 774.52,315.7 774.83,333.7 775.14,359.8 775.45,391.4 775.76,423.0 776.07,449.1 776.38,467.1 776.69,477.0 777.00,480.1 777.13,478.0 777.26,471.5 777.39,459.6 777.52,442.3 777.65,421.4 777.78,400.5 777.91,383.2 778.04,371.3 778.17,364.8 778.30,362.7 778.64,366.0 778.98,376.4 779.32,395.2 779.66,422.6 780.00,455.7 780.34,488.8 780.68,516.2 781.02,535.0 781.36,545.4 781.70,548.7 781.78,547.2 781.86,542.3 781.94,533.5 782.02,520.6 782.10,505.0 782.18,489.5 782.26,476.6 782.34,467.8 782.42,462.9 782.50,461.4 782.85,463.8 783.20,471.5 783.55,485.3 783.90,505.5 784.25,529.9 784.60,554.4 784.95,574.6 785.30,588.4 785.65,596.1 786.00,598.5 786.20,595.7 786.40,586.7 786.60,570.6 786.80,547.0 787.00,518.5 787.20,490.1 787.40,466.5 787.60,450.4 787.80,441.4 788.00,438.6 788.27,440.7 788.54,447.4 788.81,459.5 789.08,477.0 789.35,498.3 789.62,519.6 789.89,537.1 790.16,549.2 790.43,555.9 790.70,558.0 790.87,554.7 791.04,544.2 791.21,525.3 791.38,497.7 791.55,464.2 791.72,430.8 791.89,403.2 792.06,384.3 792.23,373.8 792.40,370.5 792.68,373.4 792.96,382.7 793.24,399.6 793.52,424.1 793.80,453.7 794.08,483.3 794.36,507.8 794.64,524.7 794.92,534.0 795.20,536.9 795.37,532.8 795.54,519.5 795.71,495.7 795.88,460.9 796.05,418.9 796.22,376.9 796.39,342.1 796.56,318.3 796.73,305.0 796.90,300.9 797.17,304.1 797.44,314.5 797.71,333.1 797.98,360.3 798.25,393.1 798.52,425.9 798.79,453.1 799.06,471.7 799.33,482.1 799.60,485.3 799.79,483.2 799.98,476.4 800.17,464.2 800.36,446.3 800.55,424.8 800.74,403.2 800.93,385.3 801.12,373.1 801.31,366.3 801.50,364.2 801.77,365.8 802.04,370.9 802.31,380.2 802.58,393.7 802.85,410.1 803.12,426.4 803.39,439.9 803.66,449.2 803.93,454.3 804.20,455.9 804.39,453.7 804.58,446.8 804.77,434.4 804.96,416.2 805.15,394.3 805.34,372.4 805.53,354.2 805.72,341.8 805.91,334.9 806.10,332.7 806.39,335.6 806.68,344.7 806.97,361.1 807.26,385.0 807.55,413.9 807.84,442.9 808.13,466.8 808.42,483.2 808.71,492.3 809.00,495.2 809.18,491.8 809.36,480.9 809.54,461.3 809.72,432.7 809.90,398.1 810.08,363.4 810.26,334.8 810.44,315.2 810.62,304.3 810.80,300.9 811.01,303.1 811.22,310.3 811.43,323.1 811.64,341.9 811.85,364.6 812.06,387.3 812.27,406.1 812.48,418.9 812.69,426.1 812.90,428.3 813.16,425.6 813.42,417.0 813.68,401.6 813.94,379.1 814.20,351.8 814.46,324.5 814.72,302.0 814.98,286.6 815.24,278.0 815.50,275.3 815.66,279.1 815.82,291.3 815.98,313.4 816.14,345.5 816.30,384.3 816.46,423.1 816.62,455.2 816.78,477.3 816.94,489.5 817.10,493.3 817.38,490.4 817.66,481.3 817.94,464.9 818.22,441.0 818.50,412.0 818.78,383.0 819.06,359.1 819.34,342.7 819.62,333.6 819.90,330.7 820.02,332.4 820.14,337.7 820.26,347.4 820.38,361.4 820.50,378.4 820.62,395.5 820.74,409.5 820.86,419.2 820.98,424.5 821.10,426.2 821.46,424.8 821.82,420.2 822.18,412.0 822.54,400.0 822.90,385.4 823.26,370.9 823.62,358.9 823.98,350.7 824.34,346.1 824.70,344.7 824.81,347.2 824.92,355.3 825.03,369.8 825.14,391.0 825.25,416.6 825.36,442.3 825.47,463.5 825.58,478.0 825.69,486.1 825.80,488.6 826.15,485.9 826.50,477.2 826.85,461.5 827.20,438.7 827.55,411.2 827.90,383.6 828.25,360.8 828.60,345.1 828.95,336.4 829.30,333.7 829.42,335.6 829.54,341.6 829.66,352.4 829.78,368.2 829.90,387.3 830.02,406.5 830.14,422.3 830.26,433.1 830.38,439.1 830.50,441.0 830.65,440.9 830.80,440.7 830.95,440.2 831.10,439.5 831.25,438.7 831.40,437.9 831.55,437.2 831.70,436.7 831.85,436.5 832.00,436.4 832.23,437.1 832.46,439.2 832.69,443.0 832.92,448.6 833.15,455.3 833.38,462.1 833.61,467.7 833.84,471.5 834.07,473.6 834.30,474.3 834.67,474.1 835.04,473.4 835.41,472.0 835.78,470.1 836.15,467.9 836.52,465.6 836.89,463.7 837.26,462.3 837.63,461.6 838.00,461.4 838.37,463.4 838.74,469.6 839.11,480.9 839.48,497.4 839.85,517.2 840.22,537.1 840.59,553.6 840.96,564.9 841.33,571.1 841.70,573.1 841.84,570.3 841.98,561.4 842.12,545.2 842.26,521.7 842.40,493.3 842.54,464.9 842.68,441.4 842.82,425.2 842.96,416.3 843.10,413.5 843.39,415.6 843.68,422.3 843.97,434.4 844.26,452.0 844.55,473.3 844.84,494.7 845.13,512.3 845.42,524.4 845.71,531.1 846.00,533.2 846.15,529.8 846.30,518.9 846.45,499.2 846.60,470.6 846.75,435.9 846.90,401.2 847.05,372.6 847.20,352.9 847.35,342.0 847.50,338.6 847.80,341.7 848.10,351.7 848.40,369.7 848.70,396.0 849.00,427.7 849.30,459.4 849.60,485.7 849.90,503.7 850.20,513.7 850.50,516.8 850.65,513.3 850.80,502.2 850.95,482.2 851.10,452.9 851.25,417.6 851.40,382.3 851.55,353.0 851.70,333.0 851.85,321.9 852.00,318.4 852.31,321.2 852.62,330.1 852.93,346.3 853.24,369.7 853.55,398.1 853.86,426.6 854.17,450.0 854.48,466.2 854.79,475.1 855.10,477.9 855.25,475.1 855.40,466.1 855.55,449.8 855.70,426.1 855.85,397.5 856.00,368.9 856.15,345.2 856.30,328.9 856.45,319.9 856.60,317.1 856.85,319.6 857.10,327.5 857.35,341.7 857.60,362.4 857.85,387.5 858.10,412.6 858.35,433.3 858.60,447.5 858.85,455.4 859.10,457.9 859.36,455.9 859.62,449.4 859.88,437.6 860.14,420.6 860.40,399.9 860.66,379.2 860.92,362.2 861.18,350.4 861.44,343.9 861.70,341.9 861.83,344.4 861.96,352.5 862.09,367.0 862.22,388.1 862.35,413.7 862.48,439.3 862.61,460.4 862.74,474.9 862.87,483.0 863.00,485.5 863.31,482.6 863.62,473.4 863.93,456.9 864.24,432.7 864.55,403.6 864.86,374.4 865.17,350.2 865.48,333.7 865.79,324.5 866.10,321.6 866.38,325.4 866.66,337.5 866.94,359.4 867.22,391.3 867.50,429.9 867.78,468.6 868.06,500.5 868.34,522.4 868.62,534.5 868.90,538.3 869.05,536.6 869.20,531.1 869.35,521.1 869.50,506.6 869.65,489.1 869.80,471.6 869.95,457.1 870.10,447.1 870.25,441.6 870.40,439.9 870.75,442.0 871.10,448.7 871.45,460.8 871.80,478.3 872.15,499.6 872.50,520.9 872.85,538.4 873.20,550.5 873.55,557.2 873.90,559.3 874.03,557.2 874.16,550.6 874.29,538.6 874.42,521.2 874.55,500.1 874.68,479.0 874.81,461.6 874.94,449.6 875.07,443.0 875.20,440.9 875.45,442.3 875.70,446.8 875.95,454.9 876.20,466.8 876.45,481.1 876.70,495.4 876.95,507.3 877.20,515.4 877.45,519.9 877.70,521.3 877.90,518.5 878.10,509.6 878.30,493.4 878.50,469.9 878.70,441.5 878.90,413.1 879.10,389.6 879.30,373.4 879.50,364.5 879.70,361.7 880.01,364.8 880.32,374.7 880.63,392.6 880.94,418.7 881.25,450.2 881.56,481.7 881.87,507.8 882.18,525.7 882.49,535.6 882.80,538.7 882.99,537.3 883.18,532.7 883.37,524.5 883.56,512.5 883.75,498.0 883.94,483.5 884.13,471.5 884.32,463.3 884.51,458.7 884.70,457.3 885.00,459.5 885.30,466.4 885.60,478.8 885.90,496.9 886.20,518.9 886.50,540.8 886.80,558.9 887.10,571.3 887.40,578.2 887.70,580.4 887.83,577.1 887.96,566.8 888.09,548.0 888.22,520.7 888.35,487.7 888.48,454.7 888.61,427.4 888.74,408.6 888.87,398.3 889.00,395.0 889.28,398.2 889.56,408.2 889.84,426.4 890.12,452.8 890.40,484.8 890.68,516.9 890.96,543.3 891.24,561.5 891.52,571.5 891.80,574.7 892.01,571.1 892.22,559.6 892.43,538.8 892.64,508.5 892.85,471.9 893.06,435.2 893.27,404.9 893.48,384.1 893.69,372.6 893.90,369.0 894.15,372.8 894.40,384.9 894.65,406.8 894.90,438.7 895.15,477.2 895.40,515.8 895.65,547.7 895.90,569.6 896.15,581.7 896.40,585.5 896.58,582.9 896.76,574.7 896.94,559.8 897.12,538.2 897.30,512.0 897.48,485.9 897.66,464.3 897.84,449.4 898.02,441.2 898.20,438.6 898.52,441.5 898.84,450.6 899.16,467.1 899.48,491.1 899.80,520.1 900.12,549.2 900.44,573.2 900.76,589.7 901.08,598.8 901.40,601.7 901.59,601.2 901.78,599.4 901.97,596.3 902.16,591.7 902.35,586.2 902.54,580.7 902.73,576.1 902.92,573.0 903.11,571.2 903.30,570.7 903.56,571.8 903.82,575.4 904.08,581.8 904.34,591.2 904.60,602.5 904.86,613.9 905.12,623.3 905.38,629.7 905.64,633.3 905.90,634.4 906.06,633.0 906.22,628.4 906.38,620.2 906.54,608.3 906.70,593.8 906.86,579.3 907.02,567.4 907.18,559.2 907.34,554.6 907.50,553.2 907.75,554.2 908.00,557.4 908.25,563.3 908.50,571.8 908.75,582.0 909.00,592.3 909.25,600.8 909.50,606.7 909.75,609.9 910.00,610.9 910.15,609.2 910.30,603.7 910.45,593.7 910.60,579.2 910.75,561.7 910.90,544.2 911.05,529.7 911.20,519.7 911.35,514.2 911.50,512.5 911.82,515.6 912.14,525.4 912.46,543.2 912.78,569.1 913.10,600.4 913.42,631.7 913.74,657.6 914.06,675.4 914.38,685.2 914.70,688.3 914.89,683.2 915.08,667.0 915.27,637.7 915.46,595.0 915.65,543.4 915.84,491.8 916.03,449.1 916.22,419.8 916.41,403.6 916.60,398.5 916.84,400.7 917.08,407.6 917.32,420.1 917.56,438.4 917.80,460.4 918.04,482.5 918.28,500.8 918.52,513.3 918.76,520.2 919.00,522.4 919.21,519.9 919.42,511.8 919.63,497.2 919.84,475.9 920.05,450.2 920.26,424.5 920.47,403.2 920.68,388.6 920.89,380.5 921.10,378.0 921.41,381.3 921.72,391.8 922.03,410.7 922.34,438.3 922.65,471.7 922.96,505.1 923.27,532.7 923.58,551.6 923.89,562.1 924.20,565.4 924.36,562.3 924.52,552.3 924.68,534.3 924.84,508.1 925.00,476.4 925.16,444.7 925.32,418.5 925.48,400.5 925.64,390.5 925.80,387.4 926.10,390.0 926.40,398.3 926.70,413.3 927.00,435.1 927.30,461.5 927.60,487.9 927.90,509.7 928.20,524.7 928.50,533.0 928.80,535.6 928.97,533.0 929.14,524.5 929.31,509.3 929.48,487.2 929.65,460.4 929.82,433.6 929.99,411.5 930.16,396.3 930.33,387.8 930.50,385.2 930.80,388.3 931.10,398.4 931.40,416.5 931.70,442.9 932.00,474.8 932.30,506.7 932.60,533.1 932.90,551.2 933.20,561.3 933.50,564.4 933.65,561.2 933.80,551.0 933.95,532.7 934.10,505.9 934.25,473.6 934.40,441.2 934.55,414.4 934.70,396.1 934.85,385.9 935.00,382.7 935.34,385.1 935.68,392.9 936.02,406.9 936.36,427.3 936.70,452.0 937.04,476.7 937.38,497.1 937.72,511.1 938.06,518.9 938.40,521.3 938.51,518.0 938.62,507.4 938.73,488.3 938.84,460.6 938.95,426.9 939.06,393.3 939.17,365.6 939.28,346.5 939.39,335.9 939.50,332.6 939.80,336.3 940.10,348.1 940.40,369.4 940.70,400.4 941.00,438.0 941.30,475.6 941.60,506.6 941.90,527.9 942.20,539.7 942.50,543.4 942.71,539.2 942.92,525.7 943.13,501.5 943.34,466.2 943.55,423.4 943.76,380.6 943.97,345.3 944.18,321.1 944.39,307.6 944.60,303.4 944.86,305.8 945.12,313.5 945.38,327.3 945.64,347.5 945.90,371.9 946.16,396.4 946.42,416.6 946.68,430.4 946.94,438.1 947.20,440.5 947.39,439.0 947.58,434.1 947.77,425.3 947.96,412.5 948.15,397.0 948.34,381.5 948.53,368.7 948.72,359.9 948.91,355.0 949.10,353.5 949.36,356.6 949.62,366.4 949.88,384.2 950.14,410.0 950.40,441.3 950.66,472.6 950.92,498.4 951.18,516.2 951.44,526.0 951.70,529.1 951.89,526.7 952.08,519.2 952.27,505.7 952.46,485.9 952.65,462.0 952.84,438.2 953.03,418.4 953.22,404.9 953.41,397.4 953.60,395.0" fill="none" stroke="#5a1f72" stroke-width="3.1" stroke-linejoin="round" stroke-linecap="butt"/>
<rect x="123.6" y="101.4" width="830.9" height="615.95" fill="none" stroke="#cccccc" stroke-width="2.9"/>
<text class="sans" x="123.8" y="41.6" font-size="27.9" font-weight="bold" fill="#222222" textLength="316" lengthAdjust="spacingAndGlyphs">2 metre temperature</text>
<text class="mono" x="123.2" y="73.8" font-size="26.7">Erie (EIK)</text>
<text class="mono" x="99.6" y="201.1" font-size="23" text-anchor="end">30</text>
<text class="mono" x="99.6" y="294.1" font-size="23" text-anchor="end">20</text>
<text class="mono" x="99.6" y="387.5" font-size="23" text-anchor="end">10</text>
<text class="mono" x="99.6" y="480.6" font-size="23" text-anchor="end">0</text>
<text class="mono" x="99.6" y="573.6" font-size="23" text-anchor="end">−10</text>
<text class="mono" x="99.6" y="666.7" font-size="23" text-anchor="end">−20</text>
<text class="mono" x="236.4" y="756.9" font-size="22" text-anchor="middle">Sep</text>
<text class="mono" x="373.8" y="756.9" font-size="22" text-anchor="middle">Oct</text>
<text class="mono" x="517.6" y="756.9" font-size="22" text-anchor="middle">Nov</text>
<text class="mono" x="655.0" y="756.9" font-size="22" text-anchor="middle">Dec</text>
<text class="mono" x="797.5" y="756.9" font-size="22" text-anchor="middle">2026</text>
<text class="mono" x="940.5" y="756.9" font-size="22" text-anchor="middle">Feb</text>
<text class="mono" transform="translate(38.4,411.2) rotate(-90)" font-size="26.8" text-anchor="middle">2 metre temperature [degree_Celsius]</text>
</svg></body></html>
